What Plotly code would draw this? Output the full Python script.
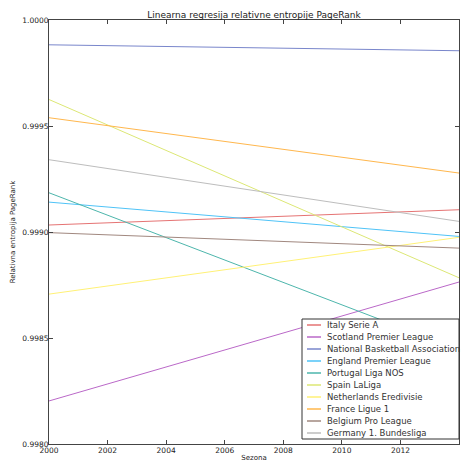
import plotly.graph_objects as go

seasons = [2000, 2014]

italy = [0.999033, 0.999105]
scotland = [0.998203, 0.998764]
nba = [0.999883, 0.999855]
england = [0.999141, 0.998979]
portugal = [0.999185, 0.998445]
spain = [0.999625, 0.998784]
netherlands = [0.998707, 0.998975]
france = [0.999539, 0.999278]
belgium = [0.998997, 0.998924]
germany = [0.999341, 0.999050]

series = [
    ("Italy Serie A", italy, "#E57373"),
    ("Scotland Premier League", scotland, "#BA68C8"),
    ("National Basketball Association", nba, "#7986CB"),
    ("England Premier League", england, "#4FC3F7"),
    ("Portugal Liga NOS", portugal, "#4DB6AC"),
    ("Spain LaLiga", spain, "#DCE775"),
    ("Netherlands Eredivisie", netherlands, "#FFF176"),
    ("France Ligue 1", france, "#FFB74D"),
    ("Belgium Pro League", belgium, "#A1887F"),
    ("Germany 1. Bundesliga", germany, "#BDBDBD"),
]

W, H = 468, 464
L, R, T, B = 49, 9, 20, 20
pw, ph = W - L - R, H - T - B


def px_x(x):
    return (x - L) / pw


def px_y(y):
    return (H - B - y) / ph


fig = go.Figure()
for name, vals, color in series:
    fig.add_trace(go.Scatter(x=seasons, y=vals, name=name, mode="lines",
                             line=dict(color=color, width=1), showlegend=False))

# matplotlib-style legend box, drawn by hand so entries sit 12px apart
shapes = [dict(type="rect", xref="paper", yref="paper",
               x0=px_x(302), x1=px_x(459), y0=px_y(439), y1=px_y(319),
               line=dict(color="#333", width=1), fillcolor="white", layer="above")]
annotations = []
for i, (name, vals, color) in enumerate(series):
    yy = px_y(325 + 12 * i)
    shapes.append(dict(type="line", xref="paper", yref="paper",
                       x0=px_x(307), x1=px_x(321), y0=yy, y1=yy,
                       line=dict(color=color, width=1.5), layer="above"))
    annotations.append(dict(xref="paper", yref="paper", x=px_x(325), y=yy,
                            text=name, showarrow=False, xanchor="left", yanchor="middle",
                            font=dict(size=8.5, color="#333")))

axis_style = dict(
    showgrid=False, zeroline=False, showline=True, linecolor="#444", linewidth=1,
    mirror="ticks", ticks="inside", ticklen=4, tickcolor="#444",
    tickfont=dict(size=7.5, color="#222"), automargin=False,
)

fig.update_layout(
    width=W, height=H,
    margin=dict(l=L, r=R, t=T, b=B),
    paper_bgcolor="white", plot_bgcolor="white",
    font=dict(family="DejaVu Sans", size=8, color="#222"),
    title=dict(text="Linearna regresija relativne entropije PageRank",
               xref="paper", x=0.5, xanchor="center",
               yref="container", y=1 - 15 / H, yanchor="middle",
               font=dict(size=9)),
    xaxis=dict(range=[2000, 2014], dtick=2, tick0=2000, ticklabelstandoff=-1,
               title=dict(text="Sezona", font=dict(size=7), standoff=1), **axis_style),
    yaxis=dict(range=[0.998, 1.0], dtick=0.0005, tickformat=".4f", ticklabelstandoff=-2,
               title=dict(text="Relativna entropija PageRank", font=dict(size=7), standoff=5),
               **axis_style),
    shapes=shapes,
    annotations=annotations,
)

fig.write_html("out.html", config={"displayModeBar": False},
               post_script="document.body.style.margin='0';")
